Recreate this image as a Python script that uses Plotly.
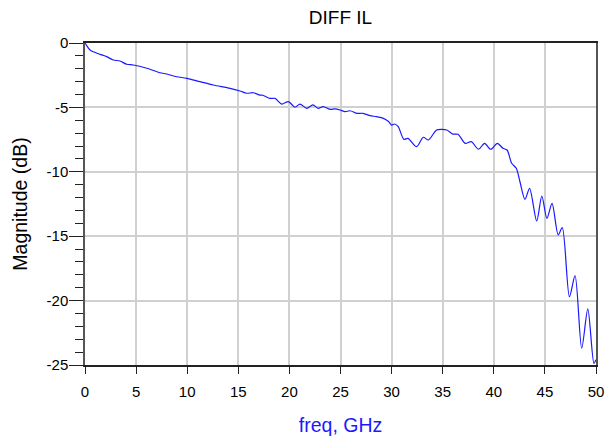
import plotly.graph_objects as go

freq = [0, 0.25, 0.49, 0.81, 1.47, 2.12, 2.77, 3.42, 4.08, 4.73, 6.04, 7.34, 7.99, 8.97,
        9.95, 11.25, 12.55, 14.19, 15.17, 15.82, 16.47, 17.12, 17.4, 18.1, 18.6, 19.25,
        19.9, 20.55, 21.04, 21.7, 22.3, 22.8, 23.3, 23.97, 24.46, 24.95, 25.44, 25.93,
        26.58, 27.2, 27.9, 28.5, 29.2, 29.7, 30.0, 30.3, 30.65, 31.2, 31.6, 32.45, 33.1,
        33.6, 34.4, 34.9, 35.4, 36.0, 36.5, 37.2, 37.8, 38.5, 39.1, 39.7, 40.35, 40.9,
        41.3, 41.75, 42.2, 42.56, 43.05, 43.5, 44.2, 44.7, 45.2, 45.7, 46.3, 46.7, 47.4,
        47.95, 48.6, 49.2, 49.8, 50.0]
mag_db = [0, -0.3, -0.54, -0.68, -0.88, -1.06, -1.32, -1.40, -1.65, -1.71, -1.96, -2.31,
          -2.41, -2.62, -2.74, -3.0, -3.26, -3.52, -3.73, -3.90, -3.86, -4.05, -4.06, -4.3,
          -4.3, -4.74, -4.55, -4.99, -4.74, -5.07, -4.81, -5.07, -4.94, -5.15, -5.12, -5.2,
          -5.33, -5.26, -5.46, -5.46, -5.64, -5.72, -5.85, -6.1, -6.37, -6.29, -6.5, -7.48,
          -7.4, -8.05, -7.32, -7.53, -6.75, -6.7, -6.75, -7.07, -7.09, -7.79, -7.66, -8.25,
          -7.79, -8.25, -7.79, -8.18, -8.31, -9.34, -9.73, -10.77, -12.14, -11.28, -13.82,
          -11.88, -13.61, -12.45, -14.9, -14.34, -19.7, -18.06, -23.7, -20.65, -24.87, -24.6]

x_ticks = [0, 5, 10, 15, 20, 25, 30, 35, 40, 45, 50]
y_ticks = [0, -5, -10, -15, -20, -25]

fig = go.Figure()
fig.add_trace(go.Scatter(x=freq, y=mag_db, mode="lines",
                         line=dict(color="#1a1aff", width=1.2, shape="spline", smoothing=0.8),
                         showlegend=False, hoverinfo="skip"))

fig.update_layout(
    width=605, height=437,
    margin=dict(l=85, r=9, t=43, b=72, autoexpand=False),
    paper_bgcolor="white", plot_bgcolor="white",
    font=dict(family="Liberation Sans, Arial, sans-serif", size=15, color="black"),
    title=dict(text="DIFF IL", x=0.5, xref="paper", xanchor="center",
               y=1 - 17 / 437, yref="container", yanchor="middle",
               font=dict(size=19, color="black")),
)
fig.update_xaxes(
    range=[0, 50], tickvals=x_ticks, ticktext=[str(v) for v in x_ticks],
    automargin=False,
    showgrid=True, gridcolor="#d0d0d0", gridwidth=2,
    showline=True, linecolor="#222", linewidth=1.5, mirror=True,
    ticks="outside", ticklen=7, tickcolor="#222", tickwidth=1,
    ticklabelstandoff=5,
    zeroline=False,
    title=dict(text="freq, GHz", font=dict(size=19.5, color="#1a1aff"), standoff=20),
)
fig.update_yaxes(
    range=[-25, 0], tickvals=y_ticks, ticktext=[str(v) for v in y_ticks],
    automargin=False,
    showgrid=True, gridcolor="#d0d0d0", gridwidth=2,
    showline=True, linecolor="#555", linewidth=1.5, mirror=True,
    ticks="outside", ticklen=14, tickcolor="#222", tickwidth=1,
    ticklabelstandoff=-2,
    minor=dict(dtick=1, tick0=0, ticks="outside", ticklen=8, tickcolor="#222", showgrid=False),
    zeroline=False,
    title=dict(text="Magnitude (dB)", font=dict(size=19.5, color="black"), standoff=14),
)

fig.write_html("out.html")
